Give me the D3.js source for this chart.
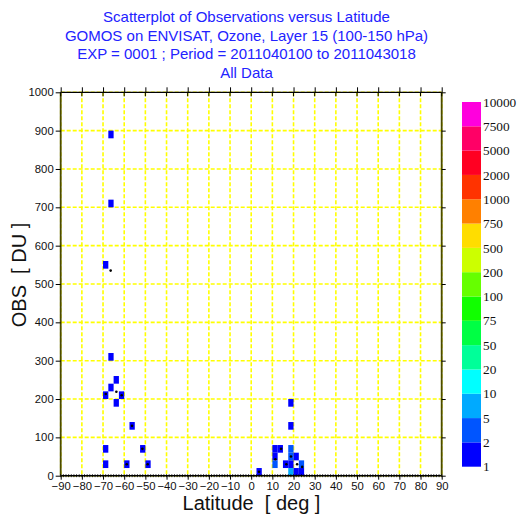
<!DOCTYPE html>
<html>
<head>
<meta charset="utf-8">
<script src="https://cdn.jsdelivr.net/npm/d3@7"></script>
<style>
  html, body { margin: 0; padding: 0; background: #fff; }
  svg { display: block; }
  text { font-family: "Liberation Sans", Arial, sans-serif; white-space: pre; }
</style>
</head>
<body>
<svg id="chart" width="528" height="524"></svg>
<script>
// Title lines
const titleLines = [
  "Scatterplot of Observations versus Latitude",
  "GOMOS on ENVISAT, Ozone, Layer 15 (100-150 hPa)",
  "EXP = 0001 ; Period = 2011040100 to 2011043018",
  "All Data"
];

// Binned counts: lower-left corner of each 2.5 deg x 20 DU cell, and its count
const cellLat = [-67.5, -67.5, -70, -67.5, -65, -67.5, -70, -62.5, -65, -57.5, -70, -52.5, -70, -60, -50,
                 2.5, 17.5, 17.5, 10, 12.5, 10, 10, 15, 17.5, 17.5, 17.5, 17.5, 20, 20, 22.5, 22.5];
const cellObs = [880, 700, 540, 300, 240, 220, 200, 200, 180, 120, 60, 60, 20, 20, 20,
                 0, 180, 120, 60, 60, 40, 20, 20, 60, 40, 20, 0, 40, 0, 20, 0];
const cellCount = [1, 1, 1, 1, 1, 1, 1, 1, 1, 1, 1, 1, 1, 1, 1,
                   1, 1, 1, 1, 1, 1, 3, 1, 3, 3, 1, 6, 1, 1, 3, 1];

// Individual observations drawn as dots
const pointLat = [-66.4, -68.7, -63.7, -61.2, -56.3, -51.4, -58.8, -48.9, 3.7, 14.1, 11.4, 18.8, 16.6, 21.7, 24.1];
const pointObs = [535, 213, 219, 210, 130, 70, 30, 30, 10, 70, 43, 50, 30, 30, 23];

// Axis ticks
const xTicks = d3.range(-90, 91, 10);
const yTicks = d3.range(0, 1001, 100);

// Colour key
const keyLabels = ["1", "2", "5", "10", "20", "50", "75", "100", "200", "500", "750", "1000", "2000", "5000", "7500", "10000"];
const keyBounds = [2, 5, 10, 20, 50, 75, 100, 200, 500, 750, 1000, 2000, 5000, 7500];
const keyColors = ["#0000ff", "#0055ff", "#00aaff", "#00ffff", "#00ff99", "#00ff44", "#11ff00", "#66ff00",
                   "#ccff00", "#ffdd00", "#ff8000", "#ff3300", "#ff0022", "#ff0066", "#ff00dd"];

const svg = d3.select("#chart");

const pL = 60.7, pR = 441.7, pT = 92.3, pB = 475.7;
const x = d3.scaleLinear().domain([-90, 90]).range([pL, pR]);
const y = d3.scaleLinear().domain([0, 1000]).range([pB, pT]);
const color = d3.scaleThreshold().domain(keyBounds).range(keyColors);

// Titles
svg.append("g").selectAll("text").data(titleLines).join("text")
  .attr("x", 246.5).attr("y", (d, i) => 21.8 + i * 18.7)
  .attr("text-anchor", "middle")
  .attr("fill", "#2222ff")
  .style("font-size", "15px")
  .text(d => d);

// Grid
const grid = svg.append("g")
  .attr("stroke", "#ffff00").attr("stroke-width", 1.6).attr("stroke-dasharray", "4,2");
grid.selectAll("line.v").data(xTicks).join("line").attr("class", "v")
  .attr("x1", d => x(d)).attr("x2", d => x(d)).attr("y1", pT).attr("y2", pB);
grid.selectAll("line.h").data(yTicks).join("line").attr("class", "h")
  .attr("x1", pL).attr("x2", pR).attr("y1", d => y(d)).attr("y2", d => y(d));

// Cells
const cells = cellLat.map((la, i) => ({lat: la, obs: cellObs[i], n: cellCount[i]}));
svg.append("g").selectAll("rect").data(cells).join("rect")
  .attr("x", d => x(d.lat))
  .attr("y", d => y(d.obs + 20))
  .attr("width", d => x(d.lat + 2.5) - x(d.lat))
  .attr("height", d => y(d.obs) - y(d.obs + 20))
  .attr("fill", d => color(d.n));

// Dots
const pts = pointLat.map((la, i) => ({lat: la, obs: pointObs[i]}));
svg.append("g").selectAll("circle").data(pts).join("circle")
  .attr("cx", d => x(d.lat)).attr("cy", d => y(d.obs))
  .attr("r", 1.3).attr("fill", "#000");

// Frame
const frame = svg.append("g").attr("stroke", "#000").attr("stroke-width", 1.2).attr("fill", "none");
frame.append("line").attr("x1", pL).attr("x2", pR).attr("y1", pT).attr("y2", pT);
frame.append("line").attr("x1", pL).attr("x2", pR).attr("y1", pB).attr("y2", pB).attr("stroke-width", 1.6);
frame.append("line").attr("x1", pL).attr("x2", pL).attr("y1", pT).attr("y2", pB).attr("stroke", "#4a4a00").attr("stroke-width", 1.8);
frame.append("line").attr("x1", pR).attr("x2", pR).attr("y1", pT).attr("y2", pB).attr("stroke", "#4a4a00").attr("stroke-width", 1.8);

// Bottom axis
const xAxis = svg.append("g").attr("transform", `translate(0,${pB})`)
  .call(d3.axisBottom(x).tickValues(xTicks).tickSize(4).tickPadding(2).tickFormat(d3.format("d")));
xAxis.select(".domain").remove();
xAxis.selectAll("text").style("font-size", "11.3px").attr("fill", "#111");
// minor ticks along the bottom edge
svg.append("g").selectAll("line").data(d3.range(-90, 90.1, 1.25)).join("line")
  .attr("x1", d => x(d)).attr("x2", d => x(d)).attr("y1", pB - 1.5).attr("y2", pB + 1.5)
  .attr("stroke", "#000").attr("stroke-width", 0.8);

// Top ticks
const xTop = svg.append("g").attr("transform", `translate(0,${pT})`)
  .call(d3.axisTop(x).tickValues(xTicks).tickSize(5).tickFormat(""));
xTop.select(".domain").remove();
svg.append("g").selectAll("line").data(xTicks).join("line")
  .attr("x1", d => x(d)).attr("x2", d => x(d)).attr("y1", pT).attr("y2", pT + 4)
  .attr("stroke", "#000");

// Left axis
const yAxis = svg.append("g").attr("transform", `translate(${pL},0)`)
  .call(d3.axisLeft(y).tickValues(yTicks).tickSize(5).tickPadding(2).tickFormat(d3.format("d")));
yAxis.select(".domain").remove();
yAxis.selectAll("text").style("font-size", "11.3px").attr("fill", "#111");

// Right ticks
const yRight = svg.append("g").attr("transform", `translate(${pR},0)`)
  .call(d3.axisRight(y).tickValues(yTicks).tickSize(4).tickFormat(""));
yRight.select(".domain").remove();

// Axis titles
svg.append("text").attr("x", 251.5).attr("y", 510)
  .attr("text-anchor", "middle").style("font-size", "20px").attr("fill", "#111")
  .text("Latitude  [ deg ]");
svg.append("text").attr("transform", "translate(26,275) rotate(-90)")
  .attr("text-anchor", "middle").style("font-size", "20px").attr("fill", "#111")
  .text("OBS  [ DU ]");

// Colour key
const keyTop = 102, keyBottom = 466.7;
const ky = d3.scaleLinear().domain([0, keyColors.length]).range([keyBottom, keyTop]);
const key = svg.append("g");
key.selectAll("rect").data(keyColors).join("rect")
  .attr("x", 462).attr("width", 19)
  .attr("y", (d, i) => ky(i + 1)).attr("height", (d, i) => ky(i) - ky(i + 1))
  .attr("fill", d => d);
key.selectAll("text").data(keyLabels).join("text")
  .attr("x", 483).attr("y", (d, i) => ky(i))
  .attr("dy", "0.35em")
  .style("font-family", "'Liberation Serif', 'Times New Roman', serif")
  .style("font-size", "13.3px").attr("fill", "#111")
  .text(d => d);
</script>
</body>
</html>
